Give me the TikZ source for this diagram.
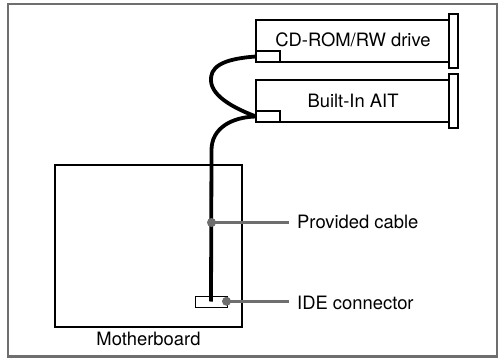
\documentclass[tikz,border=0pt]{standalone}
\usepackage{fontspec}
\setmainfont{TeX Gyre Heros}
\usepackage{xcolor}
\usetikzlibrary{positioning}
\definecolor{leadgray}{HTML}{6E6E6E}
\tikzset{
  box/.style={draw=black,line width=1.3pt,fill=white,inner sep=0pt,outer sep=0pt},
  cable/.style={black,line width=3.8pt},
  leader/.style={leadgray,line width=2.4pt},
  dot/.style={circle,fill=leadgray,inner sep=0pt,minimum size=9pt},
  label/.style={font=\fontsize{18.4}{20}\selectfont,inner sep=0pt},
}
\begin{document}
\begin{tikzpicture}[x=1pt,y=-1pt]
  \useasboundingbox (0,0) rectangle (500,358);
  \fill[white] (0,0) rectangle (500,358);
  \draw[leadgray,line width=2.6pt] (8,4) rectangle (497,356.5);
  % drives
  \node[box,minimum width=9pt,minimum height=54pt] (cdflange) at (453.5,41) {};
  \node[box,minimum width=193pt,minimum height=42pt,anchor=east] (cd) at (cdflange.west) {};
  \node[label] (cdlabel) at (353,40) {CD-ROM/RW drive};
  \node[box,minimum width=9pt,minimum height=54pt] (aitflange) at (453.5,101) {};
  \node[box,minimum width=193pt,minimum height=42pt,anchor=east] (ait) at (aitflange.west) {};
  \node[label] (aitlabel) at (353,101) {Built-In AIT};
  \node[box,minimum width=24pt,minimum height=11pt,anchor=south west] (cdport) at (cd.south west) {};
  \node[box,minimum width=24pt,minimum height=11pt,anchor=south west] (aitport) at (ait.south west) {};
  % motherboard
  \node[box,minimum width=187pt,minimum height=162pt] (board) at (148.5,246) {};
  \node[label,below=4.5pt of board] (boardlabel) {Motherboard};
  \node[box,line width=1pt,minimum width=32pt,minimum height=11pt] (ide) at (211,301.5) {};
  % cable
  \coordinate (bend) at (211.5,150);
  \draw[cable] (ide.center) -- (bend) .. controls (211.5,128) and (232,117) .. (aitport.west);
  \draw[cable] (cdport.west) .. controls (220,59) and (210,68) .. (211,81) .. controls (212,97) and (236,109) .. (aitport.west);
  % callouts
  \node[label,anchor=west] (cablelabel) at (297,222) {Provided cable};
  \node[label,anchor=west] (idelabel) at (297,303) {IDE connector};
  \node[dot] (cabledot) at (211.5,222.5) {};
  \node[dot] (idedot) at (226.5,301.3) {};
  \draw[leader] (cabledot.center) -- (289,222.5);
  \draw[leader] (idedot.center) -- (289,301.3);
\end{tikzpicture}
\end{document}
